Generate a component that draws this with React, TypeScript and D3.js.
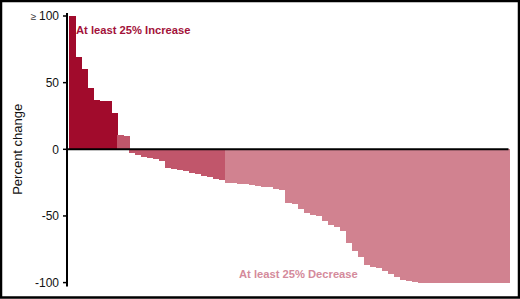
import React from "react";
import * as d3 from "d3";

const values: number[] = [
  100, 69, 60, 46, 37, 36.5, 36, 27, 11, 10,
  -3, -4, -5.5, -6.8, -7.5, -8.5, -14, -14.5, -15.5, -16.5, -17.5, -18.5, -20, -21, -22, -23,
  -25, -25.3, -25.8, -26.2, -26.6, -27.5, -28, -28.5, -30, -30.5,
  -40, -41, -45, -48, -49.5, -50, -54, -57, -58, -61,
  -70.5, -76, -80.5, -87, -88, -89, -91.5, -93.5, -96, -98, -99, -99.5,
  -100, -100, -100, -100, -100, -100, -100, -100, -100, -100, -100, -100, -100, -100, -100,
];
const tickValues: number[] = [100, 50, 0, -50, -100];
const tickLabels: string[] = ["100", "50", "0", "-50", "-100"];
const increaseLabel = "At least 25% Increase";
const decreaseLabel = "At least 25% Decrease";
const yTitle = "Percent change";

const W = 520;
const H = 299;
const DARK = "#a10b2c";
const MID = "#c1566b";
const LIGHT = "#d18290";

export default function App() {
  const x = d3
    .scaleBand<number>()
    .domain(values.map((_, i) => i))
    .range([68.5, 508.5])
    .padding(0);
  const y = d3.scaleLinear().domain([-100, 100]).range([282.6, 16]);
  const color = (v: number) => (v >= 25 ? DARK : v <= -25 ? LIGHT : MID);
  const axisX = 67;
  const font = "'Liberation Sans', Arial, Helvetica, sans-serif";

  return (
    <svg
      width={W}
      height={H}
      style={{ position: "absolute", left: 0, top: 0, background: "#fff" }}
      fontFamily={font}
    >
      <rect x={0} y={0} width={W} height={H} fill="#fff" />
      <g shapeRendering="crispEdges">
        {values.map((v, i) => (
          <rect
            key={i}
            x={x(i)!}
            width={x.bandwidth() + 1}
            y={y(Math.max(0, v))}
            height={Math.abs(y(v) - y(0))}
            fill={color(v)}
          />
        ))}
      </g>
      {/* zero line */}
      <line x1={axisX} x2={x.range()[1]} y1={y(0)} y2={y(0)} stroke="#000" strokeWidth={2} />
      {/* y axis */}
      <line x1={axisX} x2={axisX} y1={y(100) - 3} y2={y(-100) + 4} stroke="#000" strokeWidth={2} />
      {tickValues.map((t, i) => (
        <g key={t} transform={`translate(0,${y(t)})`}>
          <line x1={axisX - 4} x2={axisX} y1={0} y2={0} stroke="#000" strokeWidth={1.5} />
          <text x={axisX - 8} dy="0.36em" textAnchor="end" fontSize={12} fill="#111">
            {i === 0 ? (
              <>
                <tspan fontSize={10} fill="#333">≥ </tspan>
                <tspan>{tickLabels[i]}</tspan>
              </>
            ) : (
              tickLabels[i]
            )}
          </text>
        </g>
      ))}
      <text
        transform={`translate(22,${y(0)}) rotate(-90)`}
        textAnchor="middle"
        fontSize={13}
        fill="#111"
      >
        {yTitle}
      </text>
      <text x={76} y={34} fontSize={11.2} fontWeight="bold" fill="#a3123a">
        {increaseLabel}
      </text>
      <text x={239} y={277.5} fontSize={11.2} fontWeight="bold" fill="#d48a9b">
        {decreaseLabel}
      </text>
      {/* frame */}
      <rect x={1} y={1} width={W - 2} height={H - 2.5} fill="none" stroke="#000" strokeWidth={2.5} />
    </svg>
  );
}
